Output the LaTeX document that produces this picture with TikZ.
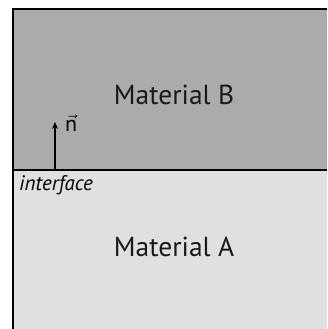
\documentclass[tikz,border=0pt]{standalone}
\usepackage{fontspec}
\setmainfont{PT Sans}
\usetikzlibrary{arrows.meta, positioning}
\definecolor{matB}{RGB}{170,172,170}
\definecolor{matA}{RGB}{222,224,226}

\begin{document}
\begin{tikzpicture}[
  x=1pt, y=-1pt,
  >={Stealth[length=7pt, width=6pt]},
  lbl/.style={font=\fontsize{27.5}{32}\selectfont, text=black!90},
  edge/.style={line width=1.4pt, black},
  a/.style={->, line width=1.3pt, black},
]
\useasboundingbox (0,0) rectangle (327,329);
\fill[white] (0,0) rectangle (327,329);
% the two materials
\fill[matB] (13,9) rectangle (327,170);
\fill[matA] (13,170) rectangle (327,329);
\node[lbl] (matb) at (174,95) {Material B};
\node[lbl] (mata) at (174,247) {Material A};
% borders and interface
\draw[edge] (327,9) -- (13,9) -- (13,329);
\draw[edge] (13,170) -- (327,170);
\node[font=\itshape\fontsize{21}{24}\selectfont, anchor=north west, inner sep=0pt] (intf) at (19,175) {interface};
% normal vector
\coordinate (foot) at (55,170);
\coordinate (tip) at (55,122);
\node[font=\fontsize{22}{24}\selectfont, anchor=south west, inner sep=0pt] (nvec) at (65,132) {$\vec{\mathrm{n}}$};
\draw[a] (foot) -- (tip);
\end{tikzpicture}
\end{document}
